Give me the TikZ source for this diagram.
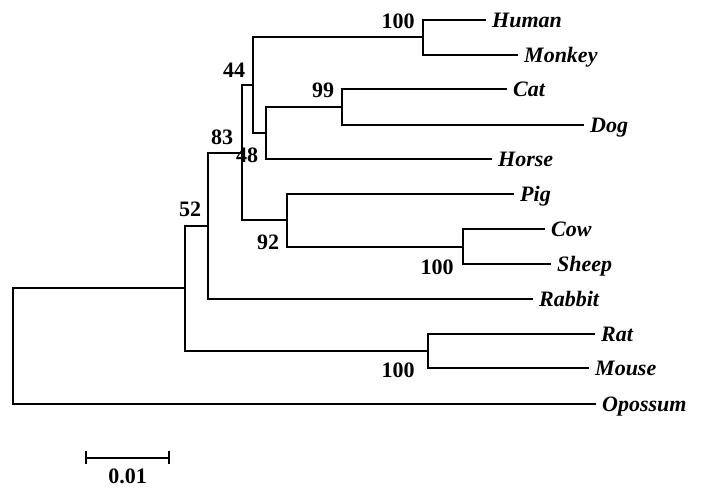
\documentclass[tikz,border=0pt]{standalone}
\usepackage{fontspec}
\setmainfont{Liberation Serif}
\begin{document}
\begin{tikzpicture}[x=1pt,y=-1pt,
  branch/.style={line width=1.6pt,line cap=rect},
  taxon/.style={anchor=base west,inner sep=0pt,font=\fontsize{22}{22}\selectfont\bfseries\itshape},
  boot/.style={anchor=center,inner sep=0pt,font=\fontsize{22}{22}\selectfont\bfseries}]
\useasboundingbox (0,0) rectangle (707,490);
% internal nodes
\coordinate (root) at (13,346);
\coordinate (nIn) at (185,288);
\coordinate (n52) at (208,226);
\coordinate (n83) at (242,153);
\coordinate (n44) at (253,85);
\coordinate (nHM) at (423,37);
\coordinate (n48) at (266,133);
\coordinate (n99) at (342,107);
\coordinate (n92) at (287,220);
\coordinate (nCS) at (463,247);
\coordinate (nRM) at (428,351);
% tips
\coordinate (tHuman) at (485,20);
\coordinate (tMonkey) at (517,55);
\coordinate (tCat) at (506,89);
\coordinate (tDog) at (583,125);
\coordinate (tHorse) at (491,159);
\coordinate (tPig) at (513,194);
\coordinate (tCow) at (544,229);
\coordinate (tSheep) at (550,264);
\coordinate (tRabbit) at (532,299);
\coordinate (tRat) at (594,334);
\coordinate (tMouse) at (588,368);
\coordinate (tOpossum) at (595,404);
% branches
\draw[branch] (root) |- (nIn);
\draw[branch] (root) |- (tOpossum);
\draw[branch] (nIn) |- (n52);
\draw[branch] (nIn) |- (nRM);
\draw[branch] (n52) |- (n83);
\draw[branch] (n52) |- (tRabbit);
\draw[branch] (n83) |- (n44);
\draw[branch] (n83) |- (n92);
\draw[branch] (n44) |- (nHM);
\draw[branch] (n44) |- (n48);
\draw[branch] (nHM) |- (tHuman);
\draw[branch] (nHM) |- (tMonkey);
\draw[branch] (n48) |- (n99);
\draw[branch] (n48) |- (tHorse);
\draw[branch] (n99) |- (tCat);
\draw[branch] (n99) |- (tDog);
\draw[branch] (n92) |- (tPig);
\draw[branch] (n92) |- (nCS);
\draw[branch] (nCS) |- (tCow);
\draw[branch] (nCS) |- (tSheep);
\draw[branch] (nRM) |- (tRat);
\draw[branch] (nRM) |- (tMouse);
% taxon names
\node[taxon] (lHuman) at ([shift={(7,7)}]tHuman) {Human};
\node[taxon] (lMonkey) at ([shift={(7,7)}]tMonkey) {Monkey};
\node[taxon] (lCat) at ([shift={(7,7)}]tCat) {Cat};
\node[taxon] (lDog) at ([shift={(7,7)}]tDog) {Dog};
\node[taxon] (lHorse) at ([shift={(7,7)}]tHorse) {Horse};
\node[taxon] (lPig) at ([shift={(7,7)}]tPig) {Pig};
\node[taxon] (lCow) at ([shift={(7,7)}]tCow) {Cow};
\node[taxon] (lSheep) at ([shift={(7,7)}]tSheep) {Sheep};
\node[taxon] (lRabbit) at ([shift={(7,7)}]tRabbit) {Rabbit};
\node[taxon] (lRat) at ([shift={(7,7)}]tRat) {Rat};
\node[taxon] (lMouse) at ([shift={(7,7)}]tMouse) {Mouse};
\node[taxon] (lOpossum) at ([shift={(7,7)}]tOpossum) {Opossum};
% bootstrap values
\node[boot] (bHM) at (398,21) {100};
\node[boot] (b44) at (234,70) {44};
\node[boot] (b99) at (323,90) {99};
\node[boot] (b83) at (222,137) {83};
\node[boot] (b48) at (247,155) {48};
\node[boot] (b52) at (190,209) {52};
\node[boot] (b92) at (268,242) {92};
\node[boot] (bCS) at (437,267) {100};
\node[boot] (bRM) at (398,370) {100};
% scale bar
\coordinate (sL) at (86,458);
\coordinate (sR) at (169,458);
\draw[branch,line cap=butt] (sL) -- (sR);
\draw[branch,line cap=butt] ([yshift=-6]sL) -- ([yshift=7]sL);
\draw[branch,line cap=butt] ([yshift=-6]sR) -- ([yshift=7]sR);
\node[boot] (sLab) at (127.5,476) {0.01};
\end{tikzpicture}
\end{document}
